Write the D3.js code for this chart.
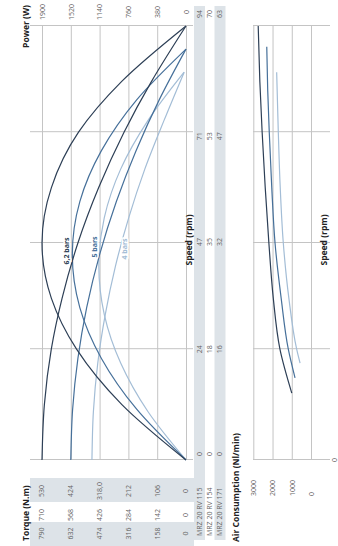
<!DOCTYPE html>
<html><head><meta charset="utf-8">
<script src="https://cdn.jsdelivr.net/npm/d3@7"></script>
<style>html,body{margin:0;padding:0;background:#fff;} svg{display:block;}</style>
</head><body>
<script>
// ---------- data ----------
const pressures = ["6,2 bars", "5 bars", "4 bars"];
const models = ["MRZ 20 RV 115", "MRZ 20 RV 154", "MRZ 20 RV 171"];
const powerTicks = [1900, 1520, 1140, 760, 380, 0];
const torqueRV115 = ["790", "632", "474", "316", "158", "0"];
const torqueRV154 = ["710", "568", "426", "284", "142", "0"];
const torqueRV171 = ["530", "424", "318,0", "212", "106", "0"];
const speedRV115 = [0, 24, 47, 71, 94];
const speedRV154 = [0, 18, 35, 53, 70];
const speedRV171 = [0, 16, 32, 47, 63];
const airTicks = [3000, 2000, 1000, 0];

// curves (speed on the MRZ 20 RV 115 scale, torque in N.m of RV 115, power in W)
const speed62 = [0, 12, 24, 35, 47, 59, 71, 82, 94];
const torque62 = [790, 777, 739, 680, 593, 479, 340, 189, 0];
const power62 = [0, 846, 1444, 1776, 1900, 1776, 1418, 848, 0];
const speed5 = [0, 11, 22, 33, 44.5, 56, 67, 78, 89];
const torque5 = [632, 622, 593, 545, 474, 382, 274, 147, 0];
const power5 = [0, 651, 1116, 1401, 1500, 1400, 1116, 651, 0];
const speed4 = [0, 10.5, 21, 31.5, 42, 52.5, 63, 73.5, 84];
const torque4 = [516, 508, 484, 443, 387, 314, 226, 121, 10];
const power4 = [0, 503, 862, 1078, 1150, 1078, 862, 503, 25];

// air consumption (Nl/min)
const airSpeed62 = [14.5, 24, 35, 47, 59, 71, 82, 94];
const air62 = [1000, 1615, 1960, 2190, 2380, 2540, 2660, 2745];
const airSpeed5 = [17.8, 24, 35, 47, 59, 71, 80, 89.5];
const air5 = [830, 1180, 1550, 1870, 2040, 2170, 2250, 2300];
const airSpeed4 = [21, 24, 35, 47, 59, 71, 84];
const air4 = [570, 745, 1150, 1440, 1600, 1700, 1785];

// ---------- style ----------
const colors = ["#2d3f56", "#46709a", "#a3bdd6"];
const gridC = "#c4c4c4";
const band = "#dde3e8";
const numC = "#666";
const titleC = "#222";
const FONT = "'Open Sans', 'DejaVu Sans', sans-serif";
const NUM = 7, TITLE = 8.5;

// ---------- drawing (chart laid out landscape 546x338, rotated -90deg) ----------
const svg = d3.select("body").append("svg").attr("width", 338).attr("height", 546)
  .style("font-family", FONT);
const g = svg.append("g").attr("transform", "translate(0,546) rotate(-90)");

const x = d3.scaleLinear().domain([0, 94]).range([86, 520]);
const yP = d3.scaleLinear().domain([0, 1900]).range([186, 42]);
const yT = d3.scaleLinear().domain([0, 790]).range([186, 42]);
const yA = d3.scaleLinear().domain([0, 3000]).range([311, 253.3]);

// table bands
g.append("rect").attr("x", 6).attr("y", 194).attr("width", 534).attr("height", 11).attr("fill", band);
g.append("rect").attr("x", 6).attr("y", 214.5).attr("width", 534).attr("height", 11).attr("fill", band);
g.append("rect").attr("x", 0).attr("y", 30).attr("width", 24).attr("height", 164).attr("fill", band);
g.append("rect").attr("x", 44).attr("y", 30).attr("width", 24).attr("height", 164).attr("fill", band);

// grid: power/torque
const pAxis = d3.axisRight(yP).tickValues(powerTicks).tickSize(-(x(94) - x(0))).tickPadding(14)
  .tickFormat(d3.format("d"));
const pg = g.append("g").attr("transform", `translate(${x(94)},0)`).call(pAxis);
pg.select(".domain").remove();
pg.selectAll(".tick line").attr("stroke", gridC);
pg.selectAll(".tick text").attr("fill", numC).attr("font-size", NUM).attr("text-anchor", "middle")
  .attr("font-family", FONT);

// grid: speed
const sAxis = d3.axisBottom(x).tickValues(speedRV115).tickSize(163).tickFormat("");
const sg = g.append("g").attr("transform", "translate(0,30)").call(sAxis);
sg.select(".domain").remove();
sg.selectAll(".tick line").attr("stroke", gridC);

// torque table
[torqueRV115, torqueRV154, torqueRV171].forEach((col, j) => {
  const cx = [12.5, 31, 55][j];
  g.selectAll(null).data(col).enter().append("text")
    .attr("x", cx).attr("y", (d, i) => yP(powerTicks[i])).attr("dy", "0.35em")
    .attr("text-anchor", "middle").attr("font-size", NUM).attr("fill", numC).text(d => d);
});

// speed table
const shift = [6, 0, 1, -4, 12];
[speedRV115, speedRV154, speedRV171].forEach((row, j) => {
  const cy = [199.5, 210, 220][j];
  g.selectAll(null).data(row).enter().append("text")
    .attr("x", (d, i) => x(speedRV115[i]) + shift[i]).attr("y", cy).attr("dy", "0.35em")
    .attr("text-anchor", "middle").attr("font-size", NUM).attr("fill", numC).text(d => d);
  g.append("text").attr("x", 10).attr("y", cy).attr("dy", "0.35em")
    .attr("font-size", NUM).attr("fill", numC).text(models[j]);
});

// titles
g.append("text").attr("x", 5).attr("y", 26).attr("dy", "0.35em").attr("font-size", TITLE)
  .attr("font-weight", "bold").attr("fill", titleC).text("Torque (N.m)");
g.append("text").attr("x", 541).attr("y", 26.5).attr("dy", "0.35em").attr("font-size", TITLE)
  .attr("font-weight", "bold").attr("fill", titleC).attr("text-anchor", "end").text("Power (W)");
g.append("text").attr("x", 306).attr("y", 189.5).attr("dy", "0.35em").attr("font-size", TITLE)
  .attr("font-weight", "bold").attr("fill", titleC).attr("text-anchor", "middle").text("Speed (rpm)");

// curves
const line = d3.line().x(d => x(d[0])).y(d => d[1]).curve(d3.curveMonotoneX);
const sets = [
  [speed62, torque62, power62],
  [speed5, torque5, power5],
  [speed4, torque4, power4]
];
sets.slice().reverse().forEach((s, k) => {
  const i = 2 - k;
  const [sp, tq, pw] = s;
  g.append("path").attr("d", line(sp.map((v, j) => [v, yT(tq[j])])))
    .attr("fill", "none").attr("stroke", colors[i]).attr("stroke-width", 1.2);
  g.append("path").attr("d", line(sp.map((v, j) => [v, yP(pw[j])])))
    .attr("fill", "none").attr("stroke", colors[i]).attr("stroke-width", 1.2);
});

// pressure labels
const labelPos = [[295, 66.5], [299, 95], [297, 124.5]];
pressures.forEach((p, i) => {
  g.append("text").attr("x", labelPos[i][0]).attr("y", labelPos[i][1]).attr("dy", "0.35em")
    .attr("text-anchor", "middle").attr("font-size", NUM).attr("font-weight", "bold")
    .attr("fill", colors[i]).attr("stroke", "#fff").attr("stroke-width", 3)
    .attr("paint-order", "stroke").text(p);
});

// ---------- air consumption chart ----------
const aAxis = d3.axisLeft(yA).tickValues(airTicks).tickSize(-(x(94) - x(0))).tickPadding(0).tickFormat(d3.format("d"));
const ag = g.append("g").attr("transform", `translate(${x(0)},0)`).call(aAxis);
ag.select(".domain").remove();
ag.selectAll(".tick line").attr("stroke", gridC);
ag.selectAll(".tick text").attr("x", 50 - x(0)).attr("text-anchor", "start")
  .attr("fill", numC).attr("font-size", NUM).attr("font-family", FONT);

const asAxis = d3.axisBottom(x).tickValues(speedRV115).tickSize(77).tickFormat("");
const asg = g.append("g").attr("transform", "translate(0,253)").call(asAxis);
asg.select(".domain").remove();
asg.selectAll(".tick line").attr("stroke", gridC);

g.append("text").attr("x", x(0)).attr("y", 335).attr("dy", "0.35em").attr("text-anchor", "middle")
  .attr("font-size", NUM).attr("fill", numC).text(speedRV115[0]);

g.append("text").attr("x", 4).attr("y", 236.5).attr("dy", "0.35em").attr("font-size", TITLE)
  .attr("font-weight", "bold").attr("fill", titleC).text("Air Consumption (Nl/min)");
g.append("text").attr("x", 306).attr("y", 324.5).attr("dy", "0.35em").attr("font-size", TITLE)
  .attr("font-weight", "bold").attr("fill", titleC).attr("text-anchor", "middle").text("Speed (rpm)");

const airSets = [[airSpeed62, air62], [airSpeed5, air5], [airSpeed4, air4]];
airSets.slice().reverse().forEach((s, k) => {
  const i = 2 - k;
  g.append("path").attr("d", line(s[0].map((v, j) => [v, yA(s[1][j])])))
    .attr("fill", "none").attr("stroke", colors[i]).attr("stroke-width", 1.2);
});
</script>
</body></html>
